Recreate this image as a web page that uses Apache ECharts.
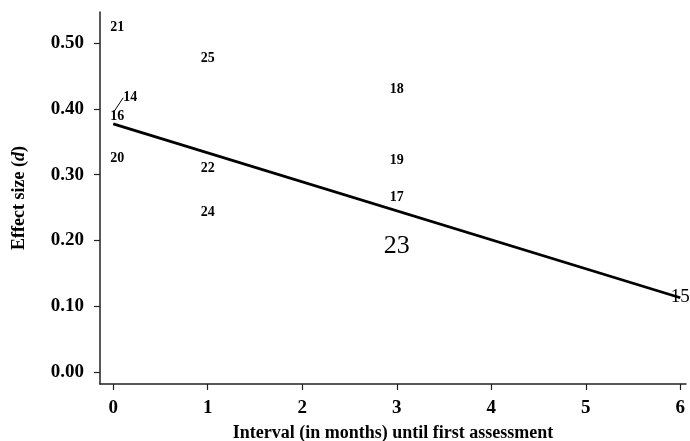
<!DOCTYPE html>
<html>
<head>
<meta charset="utf-8">
<script src="https://cdn.jsdelivr.net/npm/echarts@6/dist/echarts.min.js"></script>
<style>html,body{margin:0;padding:0;background:#fff}#c{width:690px;height:441px}</style>
</head>
<body>
<div id="c"></div>
<script>
// Study labels and their values
const studyLabels = ['21', '25', '14', '16', '20', '22', '24', '18', '19', '17', '23', '15'];
const intervalMonths = [0, 1, 0, 0, 0, 1, 1, 3, 3, 3, 3, 6];
const effectSizes = [0.524, 0.477, 0.394, 0.388, 0.324, 0.310, 0.243, 0.429, 0.322, 0.266, 0.191, 0.114];
// Regression line end points
const fitX = [0, 6];
const fitY = [0.377, 0.113];
// Tick labels
const xTicks = [0, 1, 2, 3, 4, 5, 6];
const yTicks = [0, 0.1, 0.2, 0.3, 0.4, 0.5];

const font = '"Liberation Serif", "DejaVu Serif", serif';
const labelSizes = { '23': 26, '15': 19 };

const scatterData = studyLabels.map((s, i) => {
  const item = { name: s, value: [intervalMonths[i], effectSizes[i]] };
  const big = labelSizes[s];
  item.label = { fontSize: big || 14, fontWeight: big ? 'normal' : 'bold', color: '#000' };
  if (s === '14') item.labelLine = { show: true, lineStyle: { color: '#000', width: 1 } };
  return item;
});

const chart = echarts.init(document.getElementById('c'), null, { renderer: 'canvas' });
chart.setOption({
  animation: false,
  backgroundColor: '#fff',
  grid: { left: 100, right: 4, top: 12, bottom: 57, containLabel: false, outerBoundsMode: 'none' },
  xAxis: {
    type: 'value', min: -0.14, max: 6.06,
    axisLine: { show: true, onZero: false, lineStyle: { color: '#222', width: 1.5 } },
    axisTick: { show: true, customValues: xTicks, length: 6, inside: false, lineStyle: { color: '#222', width: 1.2 } },
    axisLabel: { customValues: xTicks, margin: 15, color: '#000', fontFamily: font, fontSize: 19, fontWeight: 'bold' },
    splitLine: { show: false },
    name: 'Interval (in months) until first assessment',
    nameLocation: 'middle', nameGap: 40,
    nameTextStyle: { color: '#000', fontFamily: font, fontSize: 18, fontWeight: 'bold' }
  },
  yAxis: {
    type: 'value', min: -0.018, max: 0.547,
    axisLine: { show: true, onZero: false, lineStyle: { color: '#222', width: 1.5 } },
    axisTick: { show: true, customValues: yTicks, length: 6, lineStyle: { color: '#222', width: 1.2 } },
    axisLabel: { customValues: yTicks, margin: 16, color: '#000', fontFamily: font, fontSize: 19, fontWeight: 'bold',
      formatter: v => v.toFixed(2) },
    splitLine: { show: false },
    name: 'Effect size ({i|d})',
    nameLocation: 'middle', nameGap: 72, nameRotate: 90,
    nameTextStyle: { color: '#000', fontFamily: font, fontSize: 18, fontWeight: 'bold',
      rich: { i: { fontStyle: 'italic', fontWeight: 'bold', fontFamily: font, fontSize: 18, color: '#000' } } }
  },
  series: [
    {
      type: 'line',
      data: fitX.map((x, i) => [x, fitY[i]]),
      symbol: 'none',
      lineStyle: { color: '#000', width: 2.8 },
      z: 2
    },
    {
      type: 'scatter',
      data: scatterData,
      symbolSize: 0,
      itemStyle: { color: '#000', opacity: 1 },
      label: {
        show: true, position: 'inside', formatter: p => p.name,
        color: '#000', fontFamily: font, fontSize: 14
      },
      labelLayout: function (p) {
        const d = scatterData[p.dataIndex];
        if (d.name === '14') return { dx: 17, dy: -15 };
        if (d.value[0] === 0) return { dx: 4 };
        return {};
      },
      z: 3
    }
  ]
});
</script>
</body>
</html>
